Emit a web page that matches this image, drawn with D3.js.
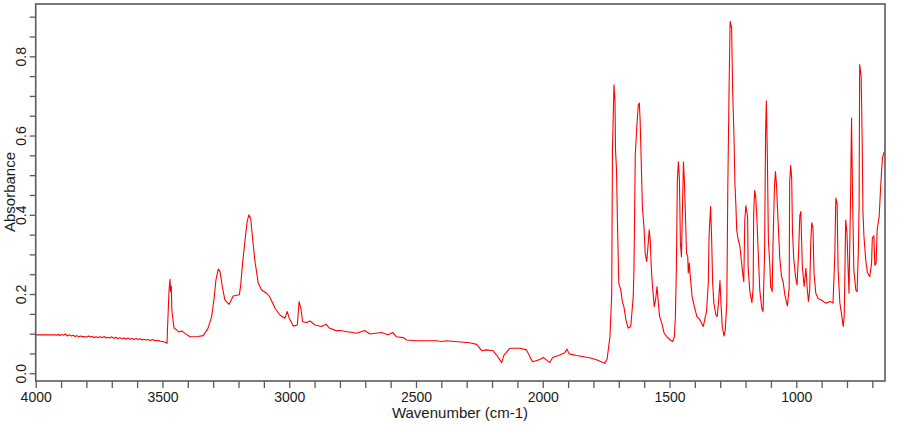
<!DOCTYPE html>
<html>
<head>
<meta charset="utf-8">
<script src="https://cdn.jsdelivr.net/npm/d3@7"></script>
<style>
  html, body { margin: 0; padding: 0; background: #fff; }
  svg { display: block; }
  text { font-family: Arial, "Liberation Sans", sans-serif; }
</style>
</head>
<body>
<svg id="chart" width="910" height="425"></svg>
<script>
// ---- data ----
// noisy baseline region
const wavenumberBaseline = [
  4000,3960,3925,3915,3910,3905,3898,3890,3882,3875,
  3868,3860,3852,3845,3838,3830,3822,3815,3808,3800,
  3792,3785,3777,3770,3762,3755,3746,3738,3730,3722,
  3715,3707,3700,3692,3684,3676,3668,3660,3652,3644,
  3636,3628,3620,3612,3604,3596,3588,3580,3572,3564,
  3556,3548,3540,3532,3524,3516,3508,3500,3492,3485,
  3482
];
const absorbanceBaseline = [
  0.097,0.097,0.097,0.096,0.099,0.095,0.098,0.096,0.099,0.094,
  0.097,0.094,0.096,0.093,0.095,0.092,0.094,0.092,0.093,0.091,
  0.094,0.092,0.093,0.090,0.092,0.090,0.092,0.090,0.093,0.089,
  0.091,0.089,0.092,0.088,0.091,0.087,0.090,0.087,0.089,0.086,
  0.089,0.086,0.088,0.085,0.088,0.085,0.087,0.084,0.086,0.084,
  0.085,0.083,0.085,0.083,0.082,0.083,0.081,0.080,0.079,0.077,
  0.076
];
// bands
const wavenumberBands = [
  3480,3474,3470,3468,3465,3463,3457,3454,3445,3435,3424,
  3410,3391,3360,3339,3320,3306,3297,3289,3280,3273,3264,3254,3237,3221,3197,3192,3184,3175,3166,3159,
  3152,3144,3135,3122,3109,3089,3076,3056,3037,3017,3008,3000,2984,2968,2961,2954,2947,2932,2918,2899,
  2872,2855,2842,2813,2800,2770,2734,2702,2682,2636,2610,2592,2577,2550,2537,2498,2445,2419,2400,2380,
  2347,2288,2261,2241,2222,2196,2182,2162,2153,2130,2090,2064,2051,2040,2011,1998,1972,1961,1933,1913,
  1904,1896,1867,1815,1788,1756,1746,1735,1728,1725,1719,1715,1713,1709,1705,1700,1692,1686,1680,1672,
  1663,1653,1649,1643,1640,1635,1629,1623,1619,1616,1612,1607,1600,1596,1590,1586,1580,1576,1572,1567,
  1560,1555,1549,1544,1539,1530,1521,1510,1497,1487,1481,1477,1473,1469,1465,1461,1457,1453,1449,1445,
  1441,1437,1433,1428,1426,1422,1418,1411,1402,1392,1381,1367,1354,1347,1344,1338,1334,1330,1325,1317,
  1312,1306,1301,1297,1292,1285,1280,1274,1270,1265,1261,1255,1251,1246,1242,1238,1235,1229,1222,1216,
  1210,1207,1203,1199,1192,1190,1183,1175,1170,1168,1164,1160,1155,1151,1144,1136,1131,1125,1121,1118,
  1114,1110,1104,1101,1095,1092,1086,1082,1078,1072,1065,1058,1052,1045,1035,1028,1026,1022,1018,1015,
  1010,1003,997,991,986,982,979,976,969,962,957,952,947,943,939,934,930,923,914,901,
  884,865,855,848,844,839,835,828,822,815,811,809,805,800,796,792,786,782,778,773,
  765,760,755,752,750,744,740,737,733,726,719,710,703,700,694,690,685,681,673,668,
  664,660,655,650
];
const absorbanceBands = [
  0.114,0.210,0.237,0.206,0.219,0.160,0.127,0.114,0.110,0.104,0.107,
  0.100,0.092,0.093,0.095,0.114,0.143,0.185,0.236,0.263,0.257,0.219,0.185,0.174,0.195,0.198,0.219,0.278,0.332,0.383,0.400,
  0.391,0.337,0.282,0.227,0.210,0.202,0.192,0.164,0.147,0.139,0.156,0.139,0.119,0.122,0.181,0.164,0.130,0.128,0.132,0.122,
  0.118,0.124,0.114,0.107,0.108,0.105,0.101,0.108,0.099,0.103,0.097,0.103,0.092,0.090,0.084,0.082,0.082,0.082,0.080,0.082,
  0.080,0.077,0.073,0.057,0.059,0.057,0.046,0.027,0.046,0.063,0.063,0.059,0.042,0.029,0.035,0.040,0.027,0.040,0.046,0.052,
  0.061,0.049,0.045,0.039,0.034,0.025,0.036,0.092,0.198,0.564,0.728,0.686,0.564,0.513,0.370,0.227,0.210,0.181,0.168,0.135,
  0.114,0.118,0.147,0.194,0.269,0.551,0.623,0.677,0.682,0.640,0.547,0.421,0.362,0.303,0.282,0.311,0.362,0.337,0.269,0.219,
  0.168,0.185,0.219,0.177,0.143,0.126,0.101,0.092,0.084,0.080,0.092,0.139,0.261,0.488,0.534,0.492,0.328,0.294,0.412,0.534,
  0.480,0.395,0.303,0.294,0.253,0.278,0.244,0.194,0.168,0.143,0.136,0.118,0.156,0.227,0.345,0.421,0.345,0.231,0.177,0.147,
  0.143,0.185,0.234,0.177,0.118,0.094,0.109,0.177,0.471,0.720,0.888,0.871,0.715,0.606,0.480,0.421,0.362,0.337,0.320,0.280,
  0.245,0.231,0.387,0.423,0.395,0.269,0.206,0.178,0.215,0.404,0.461,0.446,0.387,0.320,0.210,0.164,0.156,0.303,0.610,0.688,
  0.547,0.337,0.269,0.219,0.206,0.320,0.471,0.509,0.476,0.387,0.290,0.244,0.231,0.198,0.170,0.215,0.484,0.524,0.492,0.358,
  0.290,0.244,0.223,0.303,0.398,0.408,0.337,0.269,0.219,0.265,0.215,0.181,0.210,0.328,0.380,0.366,0.253,0.202,0.189,0.185,
  0.177,0.181,0.177,0.299,0.442,0.429,0.261,0.177,0.152,0.118,0.143,0.219,0.387,0.354,0.273,0.202,0.438,0.644,0.450,0.261,
  0.210,0.206,0.311,0.429,0.779,0.749,0.589,0.408,0.345,0.286,0.253,0.244,0.278,0.341,0.347,0.273,0.278,0.362,0.395,0.459,
  0.505,0.543,0.556,0.560
];
const xTickValues = [4000,3900,3800,3700,3600,3500,3400,3300,3200,3100,3000,2900,2800,2700,2600,2500,2400,2300,2200,2100,
                     2000,1900,1800,1700,1600,1500,1400,1300,1200,1100,1000,900,800,700];
const xTickLabels = ["4000","3500","3000","2500","2000","1500","1000"];
const yTickValues = [0,0.05,0.1,0.15,0.2,0.25,0.3,0.35,0.4,0.45,0.5,0.55,0.6,0.65,0.7,0.75,0.8,0.85,0.9];
const yTickLabels = ["0.0","0.2","0.4","0.6","0.8"];
const xTitle = "Wavenumber (cm-1)";
const yTitle = "Absorbance";

// ---- layout ----
const L = 35.7, R = 885, T = 4, B = 381;
const axisColor = "#5a5a5a";
const svg = d3.select("#chart");

const x = d3.scaleLinear().domain([4000, 650]).range([L, R]);
const y = d3.scaleLinear().domain([-0.0195, 0.932]).range([B, T]);

const points = wavenumberBaseline.map((w, i) => [w, absorbanceBaseline[i]])
  .concat(wavenumberBands.map((w, i) => [w, absorbanceBands[i]]));

svg.append("defs").append("clipPath").attr("id", "clip")
  .append("rect").attr("x", L).attr("y", T).attr("width", R - L).attr("height", B - T);

// spectrum
svg.append("path")
  .datum(points)
  .attr("clip-path", "url(#clip)")
  .attr("fill", "none")
  .attr("stroke", "#ff0000")
  .attr("stroke-width", 1.1)
  .attr("stroke-linejoin", "round")
  .attr("d", d3.line().x(d => x(d[0])).y(d => y(d[1])));

// x axis
const xAxis = d3.axisBottom(x)
  .tickValues(xTickValues)
  .tickSize(7)
  .tickPadding(4)
  .tickFormat(d => xTickLabels.includes(String(d)) ? String(d) : "");
const gx = svg.append("g").attr("transform", `translate(0,${B})`).call(xAxis);
gx.select(".domain").remove();
gx.selectAll(".tick line").attr("stroke", axisColor).attr("stroke-width", 1.3);
gx.selectAll(".tick text").attr("fill", "#1a1a1a").attr("font-size", "14px")
  .attr("font-family", "Arial, 'Liberation Sans', sans-serif");

// y axis
const yAxis = d3.axisLeft(y)
  .tickValues(yTickValues)
  .tickSize(6)
  .tickFormat(d => { const s = d3.format(".1f")(d); return (yTickLabels.includes(s) && Math.abs(d*10 - Math.round(d*10)) < 1e-6) ? s : ""; });
const gy = svg.append("g").attr("transform", `translate(${L},0)`).call(yAxis);
gy.select(".domain").remove();
gy.selectAll(".tick line").attr("stroke", axisColor).attr("stroke-width", 1.3);
gy.selectAll(".tick text")
  .attr("fill", "#1a1a1a").attr("font-size", "14px")
  .attr("font-family", "Arial, 'Liberation Sans', sans-serif")
  .attr("x", null).attr("dy", null)
  .attr("text-anchor", "middle")
  .attr("dominant-baseline", "central")
  .attr("transform", `translate(${21 - L},0) rotate(-90)`);

// frame
svg.append("rect")
  .attr("x", L).attr("y", T).attr("width", R - L).attr("height", B - T)
  .attr("fill", "none").attr("stroke", axisColor).attr("stroke-width", 1.6);

// titles
svg.append("text")
  .attr("x", 460).attr("y", 418)
  .attr("text-anchor", "middle")
  .attr("font-size", "15px").attr("fill", "#1a1a1a")
  .text(xTitle);
svg.append("text")
  .attr("transform", "translate(9,192) rotate(-90)")
  .attr("text-anchor", "middle")
  .attr("dominant-baseline", "central")
  .attr("font-size", "15px").attr("fill", "#1a1a1a")
  .text(yTitle);
</script>
</body>
</html>
